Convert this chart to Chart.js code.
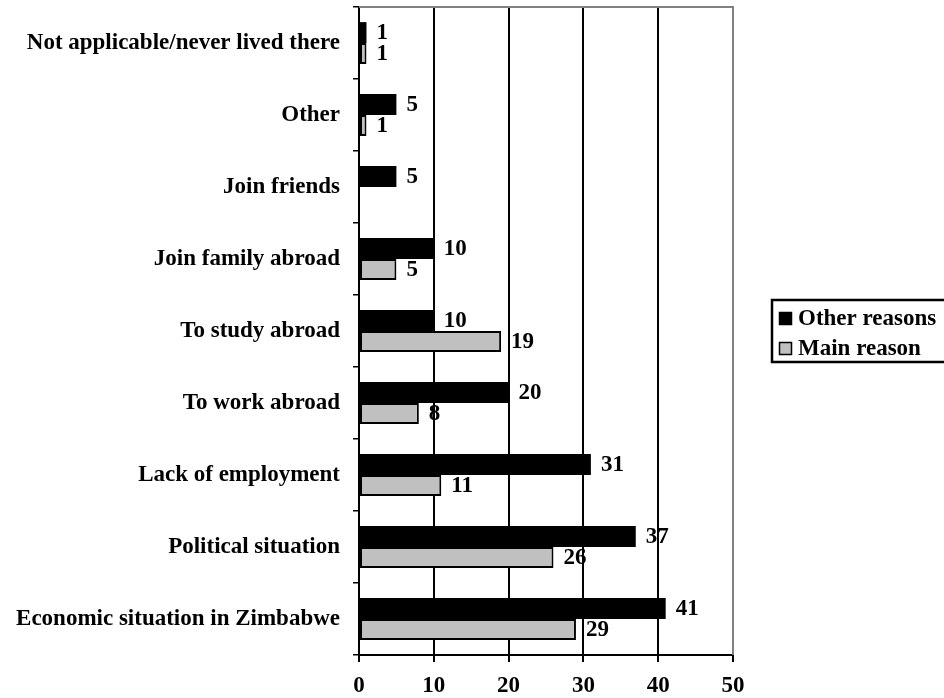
<!DOCTYPE html>
<html lang="en">
<head>
  <meta charset="UTF-8" />
  <title>Reasons for leaving Zimbabwe</title>
  <script src="https://cdn.jsdelivr.net/npm/chart.js"></script>
  <style>
    body { margin: 0; background: #fff; }
    #reasonsChart { display: block; }
  </style>
</head>
<body>
  <canvas id="reasonsChart" width="944" height="698"></canvas>

  <script>
    // Reasons, top to bottom
    const categories = [
      'Not applicable/never lived there',
      'Other',
      'Join friends',
      'Join family abroad',
      'To study abroad',
      'To work abroad',
      'Lack of employment',
      'Political situation',
      'Economic situation in Zimbabwe'
    ];
    const otherReasons = [1, 5, 5, 10, 10, 20, 31, 37, 41];
    const mainReason = [1, 1, null, 5, 19, 8, 11, 26, 29];
    const seriesNames = ['Other reasons', 'Main reason'];
    const xMin = 0, xMax = 50, xStep = 10;

    const serif = '"Liberation Serif", "Times New Roman", serif';
    const fontPx = 23;

    // gray frame on top and right of the plot
    const plotFrame = {
      id: 'plotFrame',
      beforeDatasetsDraw(chart) {
        const { ctx, chartArea: a } = chart;
        ctx.save();
        ctx.strokeStyle = '#808080';
        ctx.lineWidth = 2;
        ctx.beginPath();
        ctx.moveTo(a.left, a.top);
        ctx.lineTo(a.right, a.top);
        ctx.lineTo(a.right, a.bottom);
        ctx.stroke();
        ctx.restore();
      }
    };

    // value written after each bar end
    const barValues = {
      id: 'barValues',
      afterDatasetsDraw(chart) {
        const ctx = chart.ctx;
        ctx.save();
        ctx.font = 'bold ' + fontPx + 'px ' + serif;
        ctx.fillStyle = '#000';
        ctx.textAlign = 'left';
        ctx.textBaseline = 'middle';
        chart.data.datasets.forEach((ds, i) => {
          chart.getDatasetMeta(i).data.forEach((bar, j) => {
            const v = ds.data[j];
            if (v == null) return;
            ctx.fillText(String(v), bar.x + 10, bar.y + 1);
          });
        });
        ctx.restore();
      }
    };

    // boxed legend at the right
    const boxLegend = {
      id: 'boxLegend',
      afterDraw(chart) {
        const ctx = chart.ctx;
        const left = 772, top = 300, height = 62;
        ctx.save();
        ctx.strokeStyle = '#000';
        ctx.lineWidth = 2.5;
        ctx.strokeRect(left, top, 200, height);
        ctx.font = 'bold ' + fontPx + 'px ' + serif;
        ctx.textBaseline = 'middle';
        chart.data.datasets.forEach((ds, i) => {
          const cy = top + 18 + i * 30;
          ctx.fillStyle = ds.backgroundColor;
          ctx.fillRect(779, cy - 6, 13, 13);
          ctx.strokeStyle = '#000';
          ctx.lineWidth = 1.5;
          ctx.strokeRect(779.5, cy - 5.5, 12, 12);
          ctx.fillStyle = '#000';
          ctx.fillText(ds.label, 798, cy + 1);
        });
        ctx.restore();
      }
    };

    new Chart(document.getElementById('reasonsChart'), {
      type: 'bar',
      data: {
        labels: categories,
        datasets: [{
          label: seriesNames[0],
          data: otherReasons,
          backgroundColor: '#000000',
          borderWidth: 0
        }, {
          label: seriesNames[1],
          data: mainReason,
          backgroundColor: '#c0c0c0',
          borderColor: '#000000',
          borderWidth: 2,
          borderSkipped: false
        }]
      },
      options: {
        indexAxis: 'y',
        responsive: false,
        animation: false,
        layout: { padding: { top: 7, right: 211, bottom: 0, left: 0 } },
        datasets: { bar: { categoryPercentage: 0.58, barPercentage: 1 } },
        plugins: {
          legend: { display: false },
          tooltip: { enabled: false }
        },
        scales: {
          x: {
            min: xMin,
            max: xMax,
            afterFit(scale) { scale.height = 43; },
            ticks: {
              stepSize: xStep,
              padding: 10,
              color: '#000',
              font: { family: serif, size: fontPx, weight: 'bold' }
            },
            grid: {
              color: ctx => ctx.tick && ctx.tick.value === xMax ? '#808080' : '#000',
              tickColor: '#000',
              lineWidth: 2,
              tickLength: 7
            },
            border: { color: '#000', width: 2 }
          },
          y: {
            afterFit(scale) {
              scale.width = 359;
              scale.paddingTop = 0;
              scale.paddingBottom = 0;
            },
            ticks: {
              padding: 13,
              color: '#000',
              font: { family: serif, size: fontPx, weight: 'bold' }
            },
            grid: {
              offset: true,
              drawOnChartArea: false,
              color: '#000',
              lineWidth: 1.5,
              tickLength: 6
            },
            border: { color: '#000', width: 2 }
          }
        }
      },
      plugins: [plotFrame, barValues, boxLegend]
    });
  </script>
</body>
</html>
